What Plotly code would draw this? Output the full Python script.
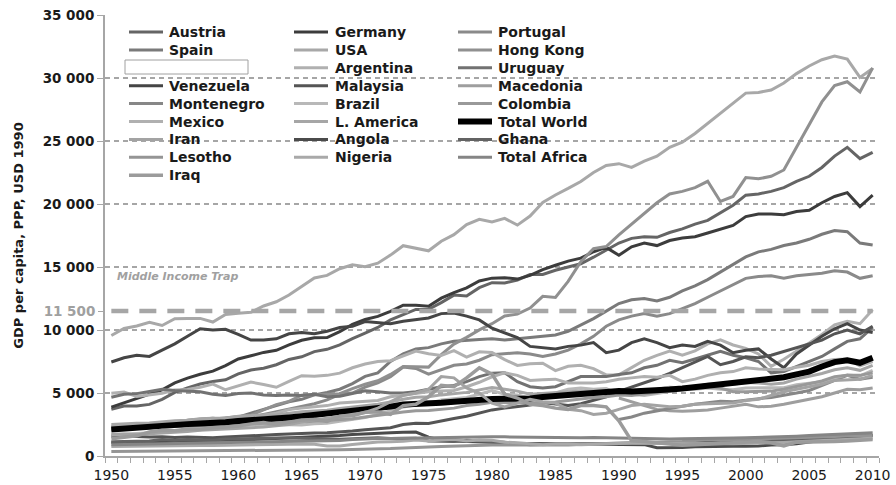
import plotly.graph_objects as go

# ---------------- data ----------------
years = list(range(1950, 2011))
years_1990 = list(range(1990, 2011))

y_tick_vals = [0, 5000, 10000, 15000, 20000, 25000, 30000, 35000]
y_tick_text = ["0", "5 000", "10 000", "15 000", "20 000", "25 000", "30 000", "35 000"]
x_tick_vals = list(range(1950, 2011, 5))
middle_income_trap = 11500
middle_income_label = "11 500"
middle_income_text = "Middle Income Trap"
y_title = "GDP per capita, PPP, USD 1990"

austria = [3706, 3959, 3967, 4095, 4500, 5053, 5397, 5716, 5907, 6051,
           6519, 6827, 6966, 7244, 7660, 7875, 8282, 8468, 8823, 9320,
           9747, 10199, 10805, 11235, 11629, 11646, 12172, 12769, 12702, 13363,
           13759, 13730, 13969, 14403, 14408, 14737, 15011, 15260, 15778, 16360,
           16905, 17274, 17400, 17353, 17735, 18024, 18400, 18700, 19300, 19900,
           20700, 20800, 21000, 21300, 21800, 22200, 22900, 23800, 24500, 23600, 24100]
germany = [3881, 4207, 4553, 4906, 5247, 5797, 6178, 6492, 6737, 7177,
           7705, 7952, 8222, 8386, 8822, 9186, 9388, 9397, 9864, 10440,
           10839, 11077, 11481, 11966, 11964, 11885, 12528, 12964, 13340, 13886,
           14114, 14149, 14040, 14329, 14785, 15140, 15469, 15701, 16209, 16558,
           15929, 16604, 16900, 16700, 17100, 17300, 17400, 17700, 18000, 18300,
           19000, 19200, 19200, 19150, 19400, 19500, 20100, 20600, 20900, 19800, 20700]
portugal = [2086, 2150, 2180, 2320, 2400, 2450, 2550, 2650, 2700, 2850,
            2956, 3100, 3300, 3500, 3700, 3950, 4150, 4450, 4900, 5000,
            5473, 5800, 6300, 7063, 6950, 6500, 6850, 7200, 7300, 7600,
            8044, 8100, 8200, 8100, 7900, 8100, 8400, 8900, 9500, 10300,
            10800, 11100, 11300, 11100, 11300, 11700, 12100, 12600, 13100, 13600,
            14100, 14250, 14300, 14100, 14300, 14400, 14500, 14700, 14600, 14100, 14300]
spain = [2189, 2350, 2480, 2470, 2620, 2680, 2830, 2920, 3000, 2890,
         3072, 3400, 3700, 4050, 4300, 4500, 4850, 5050, 5300, 5750,
         6319, 6600, 7500, 8100, 8500, 8600, 8900, 9100, 9200, 9250,
         9300, 9200, 9300, 9400, 9450, 9600, 9900, 10400, 10900, 11500,
         12100, 12400, 12500, 12300, 12600, 13100, 13500, 14000, 14600, 15200,
         15800, 16200, 16400, 16700, 16900, 17200, 17600, 17900, 17800, 16900, 16750]
usa = [9561, 10116, 10316, 10613, 10359, 10897, 10914, 10920, 10631, 11230,
       11328, 11402, 11905, 12242, 12773, 13419, 14134, 14330, 14863, 15179,
       15030, 15304, 15944, 16689, 16491, 16284, 17046, 17567, 18373, 18789,
       18577, 18856, 18325, 19047, 20123, 20717, 21236, 21788, 22499, 23059,
       23201, 22900, 23400, 23800, 24500, 24900, 25600, 26400, 27200, 28000,
       28800, 28850, 29050, 29600, 30350, 30950, 31450, 31750, 31500, 30050, 30750]
hong_kong = [2218, 2295, 2377, 2460, 2546, 2636, 2729, 2825, 2924, 3027,
             3134, 3244, 3652, 4078, 4338, 4825, 4869, 4880, 4945, 5343,
             5695, 5968, 6473, 7105, 7091, 7055, 8040, 8881, 9416, 10007,
             10503, 11115, 11256, 11745, 12674, 12581, 13856, 15424, 16455, 16623,
             17541, 18400, 19300, 20100, 20800, 21000, 21300, 21800, 20200, 20600,
             22100, 22000, 22200, 22700, 24500, 26300, 28100, 29400, 29700, 28900, 30800]
argentina = [4987, 5073, 4723, 4874, 4981, 5237, 5286, 5449, 5713, 5256,
             5559, 5862, 5677, 5455, 5925, 6371, 6321, 6399, 6578, 7004,
             7302, 7498, 7561, 7962, 8334, 8122, 7980, 8358, 7848, 8268,
             8206, 7646, 7190, 7319, 7364, 6776, 7123, 7194, 6935, 6433,
             6436, 7010, 7600, 7980, 8330, 8000, 8340, 8900, 9220, 8810,
             8540, 8100, 7120, 7680, 8290, 8960, 9640, 10400, 10700, 10500, 11600]
uruguay = [4659, 4900, 4950, 5100, 5300, 5200, 5150, 5100, 4900, 4800,
           4960, 5000, 4850, 4800, 4850, 4800, 4900, 4700, 4750, 4950,
           5184, 5100, 5000, 5000, 5100, 5300, 5500, 5600, 5900, 6300,
           6577, 6600, 5900, 5500, 5400, 5500, 5900, 6300, 6300, 6300,
           6465, 6600, 7000, 7200, 7600, 7400, 7700, 8000, 8300, 8000,
           7800, 7500, 6600, 6700, 7100, 7500, 7900, 8500, 9100, 9300, 10200]
venezuela = [7462, 7800, 8000, 7900, 8400, 8900, 9500, 10100, 10000, 10050,
             9650, 9200, 9200, 9300, 9700, 9800, 9700, 9900, 10200, 10300,
             10670, 10600, 10500, 10700, 10800, 10950, 11300, 11350, 11100, 10800,
             10140, 9800, 9400, 8700, 8600, 8500, 8700, 8800, 9000, 8200,
             8400, 9000, 9300, 9000, 8600, 8800, 8700, 9100, 8800, 8200,
             8400, 8500, 7700, 7000, 8100, 8800, 9500, 10100, 10500, 10000, 9800]
malaysia = [1559, 1600, 1550, 1500, 1520, 1460, 1500, 1480, 1450, 1500,
            1530, 1600, 1650, 1700, 1760, 1800, 1830, 1850, 1900, 1980,
            2079, 2150, 2250, 2500, 2600, 2580, 2800, 2970, 3150, 3400,
            3657, 3800, 3900, 4050, 4250, 4100, 4000, 4150, 4400, 4700,
            5132, 5460, 5780, 6150, 6550, 7000, 7460, 7900, 7250, 7500,
            7870, 7800, 8000, 8300, 8600, 8900, 9200, 9700, 10000, 9700, 10300]
macedonia = [4600, 4300, 4000, 3700, 3600, 3550, 3600, 3650, 3800, 3950,
             4100, 3900, 3950, 4100, 4300, 4500, 4700, 5000, 5300, 5250, 5400]
montenegro = [2900, 3100, 3400, 3600, 3800, 3950, 4100, 4250, 4350, 4300,
              4450, 4550, 4650, 4800, 5000, 5200, 5600, 6000, 6400, 6100, 6250]
brazil = [1672, 1720, 1780, 1840, 1930, 2000, 2000, 2100, 2230, 2340,
          2335, 2460, 2520, 2480, 2480, 2460, 2550, 2590, 2750, 2900,
          3057, 3300, 3600, 3882, 4050, 4150, 4450, 4550, 4650, 4900,
          5195, 4900, 4850, 4600, 4740, 5000, 5300, 5400, 5300, 5350,
          4920, 4900, 4800, 4950, 5150, 5300, 5300, 5400, 5300, 5250,
          5400, 5400, 5450, 5420, 5650, 5750, 5900, 6200, 6430, 6350, 6800]
colombia = [2153, 2150, 2200, 2260, 2350, 2350, 2380, 2380, 2350, 2440,
            2497, 2550, 2620, 2620, 2700, 2700, 2770, 2810, 2880, 2960,
            3094, 3200, 3350, 3499, 3600, 3620, 3700, 3800, 4000, 4100,
            4265, 4250, 4210, 4200, 4250, 4280, 4400, 4550, 4650, 4700,
            4840, 4800, 4900, 5050, 5250, 5400, 5400, 5500, 5400, 5100,
            5100, 5100, 5150, 5300, 5500, 5700, 5950, 6300, 6400, 6400, 6600]
mexico = [2365, 2450, 2480, 2430, 2600, 2700, 2780, 2880, 2930, 2930,
          3155, 3180, 3230, 3400, 3680, 3800, 3900, 4000, 4200, 4250,
          4320, 4400, 4700, 4845, 5000, 5100, 5150, 5200, 5500, 5850,
          6289, 6600, 6400, 6000, 6050, 6100, 5800, 5800, 5800, 5900,
          6085, 6200, 6300, 6250, 6400, 5900, 6100, 6400, 6600, 6700,
          7000, 6900, 6850, 6850, 7050, 7200, 7500, 7650, 7700, 7150, 7500]
latin_america = [2503, 2570, 2600, 2620, 2720, 2800, 2840, 2950, 3000, 3020,
                 3135, 3220, 3260, 3280, 3420, 3520, 3580, 3640, 3780, 3900,
                 3986, 4100, 4280, 4504, 4660, 4700, 4850, 4950, 5050, 5250,
                 5438, 5300, 5150, 4900, 4950, 5000, 5100, 5150, 5100, 5050,
                 5065, 5150, 5200, 5300, 5450, 5400, 5500, 5700, 5750, 5700,
                 5840, 5800, 5700, 5800, 6100, 6300, 6550, 6850, 7000, 6800, 7200]
total_world = [2111, 2200, 2260, 2330, 2370, 2460, 2530, 2580, 2600, 2680,
               2773, 2820, 2900, 2960, 3060, 3150, 3250, 3310, 3420, 3550,
               3729, 3800, 3920, 4090, 4120, 4100, 4230, 4310, 4420, 4510,
               4520, 4540, 4520, 4560, 4680, 4760, 4840, 4930, 5050, 5120,
               5150, 5120, 5150, 5180, 5280, 5360, 5470, 5580, 5620, 5720,
               5900, 5970, 6080, 6250, 6480, 6700, 7100, 7450, 7600, 7400, 7800]
iran = [1720, 1750, 1700, 1750, 1800, 1900, 1950, 2050, 2100, 2150,
        2154, 2250, 2300, 2400, 2500, 2700, 2850, 3000, 3150, 3300,
        3451, 3800, 4300, 4800, 5000, 5300, 6300, 6200, 5400, 5000,
        4200, 3900, 4200, 4500, 4300, 4200, 3700, 3600, 3300, 3400,
        3700, 4000, 4100, 4000, 3900, 3950, 4100, 4150, 4150, 4200,
        4400, 4500, 4800, 5100, 5300, 5500, 5700, 6000, 6050, 6100, 6400]
angola = [1052, 1080, 1100, 1120, 1140, 1180, 1200, 1220, 1240, 1250,
          1253, 1300, 1320, 1350, 1400, 1450, 1500, 1550, 1620, 1700,
          1765, 1820, 1850, 1890, 1900, 1500, 1250, 1200, 1150, 1100,
          1090, 1050, 1000, 990, 980, 970, 960, 960, 990, 980,
          960, 950, 900, 650, 630, 670, 730, 760, 780, 780,
          780, 800, 880, 890, 970, 1100, 1250, 1450, 1600, 1600, 1620]
ghana = [1122, 1150, 1130, 1200, 1300, 1250, 1300, 1280, 1250, 1350,
         1378, 1400, 1420, 1430, 1420, 1400, 1350, 1350, 1330, 1360,
         1424, 1450, 1380, 1360, 1400, 1200, 1150, 1150, 1250, 1200,
         1157, 1100, 970, 900, 920, 930, 950, 960, 990, 1000,
         1000, 1020, 1030, 1060, 1060, 1070, 1090, 1110, 1130, 1150,
         1170, 1190, 1210, 1240, 1280, 1320, 1370, 1420, 1490, 1530, 1600]
lesotho = [355, 360, 365, 370, 375, 380, 385, 390, 395, 400,
           410, 420, 430, 440, 455, 470, 480, 490, 500, 520,
           530, 560, 590, 640, 700, 720, 760, 800, 830, 860,
           880, 870, 860, 840, 860, 880, 880, 900, 950, 1000,
           1050, 1060, 1080, 1100, 1120, 1160, 1230, 1300, 1250, 1280,
           1300, 1320, 1350, 1380, 1410, 1450, 1500, 1550, 1600, 1600, 1630]
nigeria = [753, 770, 790, 800, 830, 850, 820, 830, 830, 840,
           854, 870, 880, 920, 940, 960, 930, 800, 800, 920,
           1011, 1110, 1140, 1170, 1260, 1190, 1270, 1320, 1200, 1260,
           1250, 1100, 1050, 960, 900, 950, 950, 890, 940, 960,
           1000, 1010, 1020, 1010, 990, 980, 1000, 1000, 1000, 980,
           1000, 1020, 1020, 1080, 1140, 1180, 1220, 1260, 1300, 1340, 1400]
total_africa = [890, 910, 920, 940, 960, 980, 1000, 1010, 1010, 1040,
                1055, 1070, 1090, 1130, 1170, 1200, 1210, 1220, 1240, 1300,
                1357, 1380, 1390, 1410, 1440, 1440, 1490, 1500, 1500, 1520,
                1536, 1520, 1500, 1470, 1460, 1470, 1460, 1450, 1460, 1460,
                1425, 1400, 1370, 1350, 1340, 1360, 1390, 1400, 1410, 1420,
                1447, 1470, 1490, 1520, 1570, 1620, 1670, 1720, 1780, 1800, 1850]
iraq = [1364, 1450, 1600, 1900, 2050, 2000, 2150, 2100, 2250, 2300,
        2376, 2550, 2650, 2500, 2700, 2850, 2900, 2750, 3150, 3200,
        3473, 3500, 3300, 4000, 4100, 4700, 5600, 5500, 6200, 7000,
        6500, 4900, 4600, 4100, 4000, 3800, 3700, 4000, 4000, 3900,
        2800, 1200, 1150, 1050, 950, 850, 900, 950, 1050, 1100,
        1150, 1150, 1050, 800, 1100, 1100, 1150, 1150, 1200, 1250, 1300]

# (name, x, values, colour, width) in legend order
series = [
    ("Austria", years, austria, "#656565", 3),
    ("Germany", years, germany, "#3c3c3c", 3),
    ("Portugal", years, portugal, "#8a8a8a", 3),
    ("Spain", years, spain, "#7a7a7a", 3),
    ("USA", years, usa, "#a8a8a8", 3),
    ("Hong Kong", years, hong_kong, "#909090", 3),
    ("Argentina", years, argentina, "#b0b0b0", 3),
    ("Uruguay", years, uruguay, "#727272", 3),
    ("Venezuela", years, venezuela, "#454545", 3),
    ("Malaysia", years, malaysia, "#555555", 3),
    ("Macedonia", years_1990, macedonia, "#9e9e9e", 3),
    ("Montenegro", years_1990, montenegro, "#878787", 3),
    ("Brazil", years, brazil, "#b8b8b8", 3),
    ("Colombia", years, colombia, "#999999", 3),
    ("Mexico", years, mexico, "#b0b0b0", 3),
    ("L. America", years, latin_america, "#a6a6a6", 3),
    ("Total World", years, total_world, "#000000", 6),
    ("Iran", years, iran, "#a3a3a3", 3),
    ("Angola", years, angola, "#4b4b4b", 3),
    ("Ghana", years, ghana, "#636363", 3),
    ("Lesotho", years, lesotho, "#959595", 3),
    ("Nigeria", years, nigeria, "#a9a9a9", 3),
    ("Total Africa", years, total_africa, "#858585", 3),
    ("Iraq", years, iraq, "#9b9b9b", 3.5),
]

# ---------------- figure ----------------
W, H = 896, 485
ML, MR, MT, MB = 105, 17, 15, 29
PW, PH = W - ML - MR, H - MT - MB
GRID = "#a6a6a6"
FONT = "DejaVu Sans"


def px_x(px):
    return (px - ML) / PW


def px_y(py):
    return (H - MB - py) / PH


fig = go.Figure()

for name, xs, vals, col, wid in series:
    fig.add_trace(go.Scatter(x=xs, y=vals, mode="lines", name=name,
                             line=dict(color=col, width=wid),
                             showlegend=False))

# middle-income threshold on an overlay axis carrying its own label
fig.add_trace(go.Scatter(x=[years[0], years[-1]],
                         y=[middle_income_trap, middle_income_trap],
                         mode="lines", yaxis="y2", showlegend=False,
                         hoverinfo="skip",
                         line=dict(color=GRID, width=4.5, dash="17px,11px")))

minor_vals = [y - 0.5 for y in years] + [years[-1] + 0.5]

fig.update_layout(
    width=W, height=H,
    margin=dict(l=ML, r=MR, t=MT, b=MB, autoexpand=False),
    paper_bgcolor="white", plot_bgcolor="white",
    font=dict(family=FONT, color="#1a1a1a"),
    xaxis=dict(range=[years[0] - 0.5, years[-1] + 0.5], automargin=False,
               tickmode="array", tickvals=x_tick_vals,
               ticks="outside", ticklen=5, tickcolor="rgba(0,0,0,0)",
               tickfont=dict(family=FONT, size=14, color="#1a1a1a"),
               tickprefix="<b>", ticksuffix="</b>",
               showline=True, linecolor=GRID, linewidth=2,
               showgrid=False, zeroline=False,
               minor=dict(tickmode="array", tickvals=minor_vals,
                          ticks="outside", ticklen=5, tickcolor=GRID,
                          tickwidth=1, showgrid=False)),
    yaxis=dict(range=[0, 35000], tickmode="array", automargin=False,
               tickvals=y_tick_vals,
               ticktext=["<b>%s</b>" % t for t in y_tick_text],
               tickfont=dict(family=FONT, size=13.5, color="#1a1a1a"),
               ticks="outside", ticklen=6, tickcolor=GRID, tickwidth=1,
               showline=True, linecolor=GRID, linewidth=2,
               showgrid=True, gridcolor=GRID, gridwidth=2,
               griddash="5px,4px", zeroline=False,
               title=dict(text="<b>%s</b>" % y_title,
                          font=dict(family=FONT, size=13, color="#1a1a1a"),
                          standoff=16)),
    yaxis2=dict(range=[0, 35000], overlaying="y", side="left",
                automargin=False,
                tickmode="array", tickvals=[middle_income_trap],
                ticktext=["<b>%s</b>" % middle_income_label],
                tickfont=dict(family=FONT, size=13.5, color="#a0a0a0"),
                ticks="outside", ticklen=6, tickcolor=GRID,
                showgrid=False, zeroline=False, showline=False),
)

shapes = []
annotations = []

# "Middle Income Trap" caption
annotations.append(dict(xref="paper", yref="paper", x=px_x(115), y=px_y(277),
                        xanchor="left", yanchor="middle", showarrow=False,
                        text="<b><i>%s</i></b>" % middle_income_text,
                        font=dict(family=FONT, size=11, color="#a0a0a0")))

# legend laid out as in the original (3 columns, one empty slot)
col_line_x = [129, 294, 458]
col_text_x = [167, 333, 496]
row_y0, row_dy = 32, 17.9
for i, (name, xs, vals, col, wid) in enumerate(series):
    slot = i if i < 6 else i + 1
    r, c = divmod(slot, 3)
    yy = row_y0 + row_dy * r
    shapes.append(dict(type="line", xref="paper", yref="paper",
                       x0=px_x(col_line_x[c]), x1=px_x(col_line_x[c] + 34),
                       y0=px_y(yy), y1=px_y(yy),
                       line=dict(color=col, width=wid)))
    annotations.append(dict(xref="paper", yref="paper",
                            x=px_x(col_text_x[c]), y=px_y(yy),
                            xanchor="left", yanchor="middle", showarrow=False,
                            text="<b>%s</b>" % name,
                            font=dict(family=FONT, size=14, color="#1a1a1a")))

# empty legend slot box
shapes.append(dict(type="rect", xref="paper", yref="paper",
                   x0=px_x(125), x1=px_x(248), y0=px_y(74), y1=px_y(60),
                   line=dict(color="#a0a0a0", width=1), fillcolor="white"))

fig.update_layout(shapes=shapes, annotations=annotations)

fig.write_html("out.html",
               config={"displayModeBar": False},
               post_script="document.body.style.margin='0';"
                           "document.body.style.overflow='hidden';")
